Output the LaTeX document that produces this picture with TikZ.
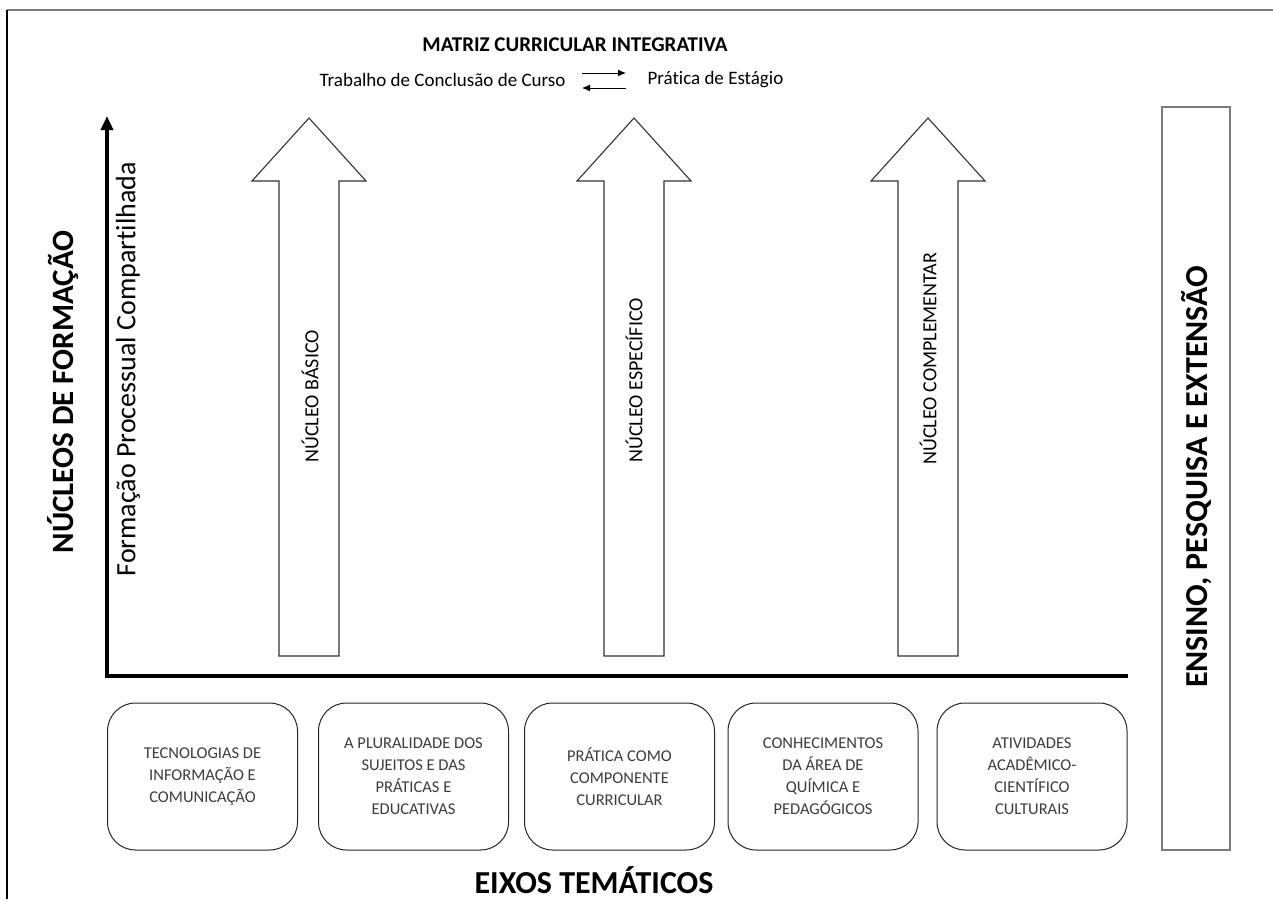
\documentclass[tikz,border=0pt]{standalone}
\usepackage{fontspec}
\setmainfont[Ligatures=NoCommon]{Carlito}
\usetikzlibrary{arrows.meta}
\definecolor{boxtext}{HTML}{3C3C3C}
\definecolor{framegray}{HTML}{7A7A7A}
\begin{document}
\begin{tikzpicture}[x=1pt,y=-1pt,
  blockarrow/.style={draw=black!80,line width=1.1pt,fill=white,line join=miter},
  axis/.style={line width=4.5pt},
  theme/.style={draw=black!85,line width=1pt,rounded corners=28pt,minimum width=190pt,minimum height=147pt,
    align=center,text=boxtext,font=\fontsize{16.5}{22}\selectfont,inner sep=0pt},
  corelabel/.style={rotate=90,anchor=west,font=\fontsize{20}{24}\selectfont},
  bigbold/.style={font=\fontsize{31}{36}\selectfont\bfseries},
  link/.style={-{Latex[length=8pt,width=7pt]},line width=1pt}]
\useasboundingbox (0,0) rectangle (1273,899);
\fill[white] (0,0) rectangle (1273,899);
% outer frame (top and left edges only)
\draw[framegray,line width=1.6pt] (7,10) -- (1273,10);
\draw[black,line width=1.4pt] (7,10) -- (7,899);

% title and the two linked activities
\node[font=\fontsize{21}{24}\selectfont\bfseries] (title) at (575,45) {MATRIZ CURRICULAR INTEGRATIVA};
\node[font=\fontsize{19}{22}\selectfont,anchor=east] (tcc) at (569,80) {Trabalho de Conclusão de Curso};
\node[font=\fontsize{19}{22}\selectfont,anchor=west] (pe) at (644,80) {Prática de Estágio};
\coordinate (ta) at (582,73); \coordinate (tb) at (626,73);
\coordinate (ba) at (626,88); \coordinate (bb) at (582,88);
\draw[link] (ta) -- (tb);
\draw[link] (ba) -- (bb);

% axes
\coordinate (origin) at (107,676);
\coordinate (ytop) at (107,116);
\coordinate (xend) at (1128,676);
\draw[axis,-{Triangle[length=14pt,width=12pt]}] ([yshift=2pt]origin) -- (ytop);
\draw[axis] ([xshift=-2.2pt]origin) -- (xend);

% block arrows for the three cores
\foreach \cx/\nm in {309/basico,634/especifico,928/complementar}{
  \draw[blockarrow] (\cx-30,656) -- (\cx-30,181) -- (\cx-57,181) -- (\cx,118)
    -- (\cx+57,181) -- (\cx+30,181) -- (\cx+30,656) -- cycle;
}
\node[corelabel] (nb) at (310,466) {NÚCLEO BÁSICO};
\node[corelabel] (ne) at (634,466) {NÚCLEO ESPECÍFICO};
\node[corelabel] (nc) at (928,468) {NÚCLEO COMPLEMENTAR};

% side labels
\node[bigbold,rotate=90] (nf) at (63,392) {NÚCLEOS DE FORMAÇÃO};
\node[rotate=90,anchor=west,font=\fontsize{28}{31}\selectfont] (fpc) at (128,580) {Formação Processual Compartilhada};

% right column
\node[draw=framegray,line width=1.5pt,minimum width=68pt,minimum height=743pt,inner sep=0pt] (epe) at (1196,478.5) {};
\node[font=\fontsize{32}{36}\selectfont\bfseries,rotate=90] (epet) at (1197,477) {ENSINO, PESQUISA E EXTENSÃO};

% thematic axes
\node[theme] (e1) at (202.5,776.5) {TECNOLOGIAS DE\\INFORMAÇÃO E\\COMUNICAÇÃO};
\node[theme] (e2) at (413.5,776.5) {A PLURALIDADE DOS\\SUJEITOS E DAS\\PRÁTICAS E\\EDUCATIVAS};
\node[theme] (e3) at (619.5,776.5) {PRÁTICA COMO\\COMPONENTE\\CURRICULAR};
\node[theme] (e4) at (823,776.5) {CONHECIMENTOS\\DA ÁREA DE\\QUÍMICA E\\PEDAGÓGICOS};
\node[theme] (e5) at (1032,776.5) {ATIVIDADES\\ACADÊMICO-\\CIENTÍFICO\\CULTURAIS};

\node[font=\fontsize{32}{36}\selectfont\bfseries] (eixos) at (594,880) {EIXOS TEMÁTICOS};
\end{tikzpicture}
\end{document}
